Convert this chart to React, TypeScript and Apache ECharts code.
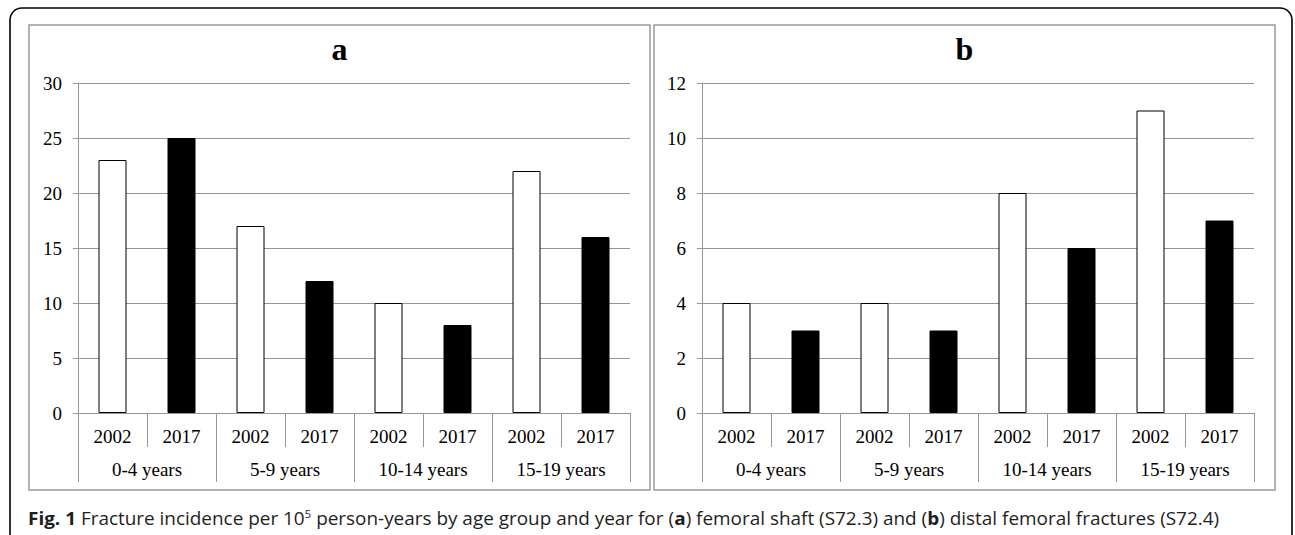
import React, { useEffect, useRef } from "react";
import * as echarts from "echarts";

// Year and age-group categories
const years = ["2002", "2017"];
const ageGroups = ["0-4 years", "5-9 years", "10-14 years", "15-19 years"];

// Incidence per 10^5 person-years, ordered by age group then year
const femoralShaft = [23, 25, 17, 12, 10, 8, 22, 16];
const distalFemoral = [4, 3, 4, 3, 8, 6, 11, 7];

// Y-axis ranges for the two panels
const axisA = { max: 30, interval: 5 };
const axisB = { max: 12, interval: 2 };

const panelTitles = ["a", "b"];

const SERIF = "'Liberation Serif', 'Times New Roman', serif";
const SANS = "'Open Sans', 'Noto Sans', sans-serif";
const GRID_GRAY = "#969696";
const CAPTION_SIZE = "18.6px";

const yearLabels = ageGroups.flatMap(() => years);

function barData(values: number[]) {
  return values.map((v, i) => {
    const isFirstYear = yearLabels[i] === years[0];
    return {
      value: v,
      itemStyle: isFirstYear
        ? { color: "#ffffff", borderColor: "#000000", borderWidth: 1 }
        : { color: "#000000", borderColor: "#000000", borderWidth: 1 },
    };
  });
}

export default function App() {
  const ref = useRef<HTMLDivElement>(null);

  useEffect(() => {
    if (!ref.current) return;
    const chart = echarts.init(ref.current, null, { renderer: "svg" });

    const grids = [
      { left: 78, right: 665, top: 83, bottom: 122 },
      { left: 702, right: 41, top: 83, bottom: 122 },
    ];

    const xAxes: any[] = [];
    const yAxes: any[] = [];
    const series: any[] = [];

    [axisA, axisB].forEach((ax, gi) => {
      xAxes.push({
        type: "category",
        gridIndex: gi,
        data: yearLabels,
        position: "bottom",
        axisLine: { show: true, lineStyle: { color: GRID_GRAY, width: 1 } },
        axisTick: { show: true, length: 34, lineStyle: { color: GRID_GRAY } },
        axisLabel: {
          margin: 14,
          fontFamily: SERIF,
          fontSize: 19,
          color: "#000",
          interval: 0,
        },
      });
      xAxes.push({
        type: "category",
        gridIndex: gi,
        data: ageGroups,
        position: "bottom",
        axisLine: { show: false },
        axisTick: { show: true, length: 69, lineStyle: { color: GRID_GRAY } },
        axisLabel: {
          margin: 47,
          fontFamily: SERIF,
          fontSize: 19,
          color: "#000",
          interval: 0,
        },
      });
      yAxes.push({
        type: "value",
        gridIndex: gi,
        min: 0,
        max: ax.max,
        interval: ax.interval,
        axisLine: { show: true, lineStyle: { color: GRID_GRAY, width: 1 } },
        axisTick: { show: true, length: 5, lineStyle: { color: GRID_GRAY } },
        splitLine: { show: true, lineStyle: { color: GRID_GRAY, width: 1 } },
        axisLabel: {
          margin: 16,
          fontFamily: SERIF,
          fontSize: 19,
          color: "#000",
        },
      });
    });

    series.push({
      type: "bar",
      xAxisIndex: 0,
      yAxisIndex: 0,
      barWidth: 28,
      data: barData(femoralShaft),
    });
    series.push({
      type: "bar",
      xAxisIndex: 2,
      yAxisIndex: 1,
      barWidth: 28,
      data: barData(distalFemoral),
    });

    const panels = [
      { x: 29, y: 25, w: 621, h: 465 },
      { x: 654, y: 25, w: 621, h: 465 },
    ];

    const graphic: any[] = [
      {
        type: "rect",
        shape: { x: 10, y: 8, width: 1282, height: 540, r: 12 },
        style: { fill: "none", stroke: "#000", lineWidth: 1.6 },
        silent: true,
        z: -1,
      },
      ...panels.map((p) => ({
        type: "rect",
        shape: { x: p.x, y: p.y, width: p.w, height: p.h },
        style: { fill: "none", stroke: "#9a9a9a", lineWidth: 1.5 },
        silent: true,
        z: -1,
      })),
      ...panels.map((p, i) => ({
        type: "text",
        x: p.x + p.w / 2,
        y: 49,
        style: {
          text: panelTitles[i],
          font: `bold 32px ${SERIF}`,
          fill: "#000",
          align: "center",
          verticalAlign: "middle",
        },
      })),
      {
        type: "text",
        x: 28,
        y: 518,
        scaleX: 1.018,
        style: {
          text:
            "{b|Fig. 1} Fracture incidence per 10{sup|5} person-years by age group and year for ({b|a}) femoral shaft (S72.3) and ({b|b}) distal femoral fractures (S72.4)",
          font: `${CAPTION_SIZE} ${SANS}`,
          fill: "#1e1e1e",
          verticalAlign: "middle",
          rich: {
            b: { font: `bold ${CAPTION_SIZE} ${SANS}`, fill: "#1e1e1e" },
            sup: {
              font: `11px ${SANS}`,
              fill: "#1e1e1e",
              verticalAlign: "top",
              padding: [0, 0, 8, 0],
            },
          },
        },
      },
    ];

    chart.setOption({
      animation: false,
      backgroundColor: "#ffffff",
      grid: grids,
      xAxis: xAxes,
      yAxis: yAxes,
      series,
      graphic,
    });

    return () => chart.dispose();
  }, []);

  return (
    <div
      ref={ref}
      style={{ position: "fixed", left: 0, top: 0, width: 1295, height: 535 }}
    />
  );
}
